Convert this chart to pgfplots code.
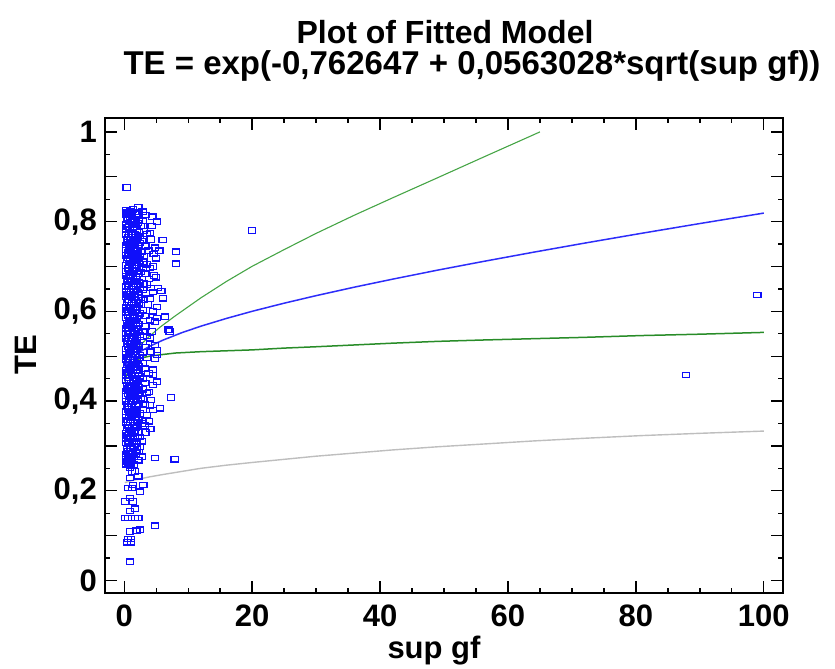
\documentclass[border=0pt]{standalone}
\usepackage{pgfplots}
\pgfplotsset{compat=1.18}
\usepackage{fontspec}
\setmainfont{Liberation Sans}
\definecolor{ptblue}{RGB}{15,15,250}
\definecolor{fitblue}{RGB}{45,45,250}
\definecolor{cgreen}{RGB}{40,140,40}
\definecolor{cgreenl}{RGB}{70,165,70}
\definecolor{pgray}{RGB}{190,190,190}
\begin{document}
\begin{tikzpicture}
\begin{axis}[
  at={(0pt,0pt)}, anchor=south west,
  scale only axis, width=678pt, height=475pt,
  xmin=-3, xmax=103, ymin=-0.028, ymax=1.031,
  xtick={0,20,40,60,80,100},
  minor x tick num=3,
  ytick={0,0.2,0.4,0.6,0.8,1},
  minor ytick={0.05,0.15,0.25,0.35,0.45,0.55,0.65,0.75,0.85,0.95},
  extra y ticks={0.1,0.3,0.5,0.7,0.9},
  extra y tick labels={},
  tick align=inside,
  major tick length=12pt, minor tick length=5pt,
  every tick/.style={black, line width=1.3pt},
  axis line style={line width=1.4pt},
  /pgf/number format/use comma,
  /pgf/number format/assume math mode=true,
  tick label style={font=\fontsize{31}{31}\selectfont\bfseries},
  xticklabel style={inner sep=4pt, yshift=-8pt},
  yticklabel style={inner sep=4pt, xshift=-4pt},
  clip=true,
]
% observations
\addplot[only marks, mark=square, mark size=2.7pt, ptblue,
  mark options={xscale=1.35, line width=1.2pt}] coordinates {
(0.35,0.826) (0.9,0.824) (1.4,0.827)
(0.3,0.815) (0.7,0.817) (1.2,0.813) (1.9,0.816)
(0.4,0.805) (0.9,0.803) (1.5,0.806) (2.3,0.804) (2.9,0.801)
(0.3,0.794) (0.8,0.792) (1.3,0.795) (1.8,0.793) (2.6,0.790)
(0.35,0.783) (0.85,0.781) (1.3,0.784) (2.0,0.782) (3.1,0.779)
(0.3,0.771) (0.75,0.773) (1.25,0.770) (1.7,0.772) (2.4,0.768)
(0.4,0.760) (0.9,0.758) (1.4,0.761) (1.9,0.759) (2.8,0.757)
(0.3,0.748) (0.8,0.750) (1.2,0.747) (1.7,0.749) (2.2,0.746)
(0.35,0.737) (0.85,0.735) (1.35,0.738) (2.0,0.736) (2.7,0.733)
(0.3,0.725) (0.7,0.727) (1.3,0.724) (1.8,0.726) (2.4,0.722)
(0.4,0.714) (0.9,0.712) (1.4,0.715) (1.9,0.713) (3.0,0.711)
(0.3,0.702) (0.8,0.704) (1.2,0.701) (1.7,0.703) (2.3,0.700)
(0.35,0.690) (0.75,0.692) (1.3,0.689) (2.0,0.691) (2.6,0.688)
(0.3,0.679) (0.85,0.677) (1.4,0.680) (1.8,0.678)
(0.4,0.667) (0.9,0.669) (1.2,0.666) (1.7,0.668) (2.3,0.665)
(0.3,0.655) (0.7,0.657) (1.3,0.654) (1.9,0.656) (2.5,0.653)
(0.35,0.644) (0.8,0.642) (1.4,0.645) (2.1,0.643)
(0.3,0.632) (0.9,0.634) (1.2,0.631) (1.7,0.633) (2.6,0.630)
(0.4,0.620) (0.75,0.622) (1.3,0.619) (1.9,0.621) (2.3,0.618)
(0.3,0.609) (0.85,0.607) (1.35,0.610) (1.8,0.608)
(0.35,0.597) (0.8,0.599) (1.2,0.596) (1.7,0.598) (2.5,0.595)
(0.3,0.586) (0.9,0.584) (1.4,0.587) (2.0,0.585)
(0.4,0.574) (0.75,0.576) (1.3,0.573) (1.8,0.575) (2.2,0.572)
(0.3,0.562) (0.8,0.564) (1.25,0.561) (1.9,0.563)
(0.35,0.551) (0.85,0.549) (1.4,0.552) (1.7,0.550) (2.4,0.547)
(0.3,0.539) (0.7,0.541) (1.3,0.538) (2.0,0.540)
(0.4,0.527) (0.9,0.529) (1.2,0.526) (1.8,0.528) (2.3,0.525)
(0.3,0.516) (0.8,0.514) (1.35,0.517) (1.9,0.515)
(0.35,0.504) (0.75,0.506) (1.3,0.503) (1.7,0.505) (2.5,0.502)
(0.3,0.492) (0.85,0.494) (1.4,0.491) (2.0,0.493)
(0.4,0.481) (0.8,0.479) (1.2,0.482) (1.8,0.480) (2.2,0.477)
(0.3,0.469) (0.9,0.471) (1.3,0.468) (1.9,0.470)
(0.35,0.457) (0.7,0.459) (1.25,0.456) (1.7,0.458) (2.4,0.455)
(0.3,0.446) (0.8,0.444) (1.4,0.447) (2.0,0.445)
(0.4,0.434) (0.85,0.436) (1.3,0.433) (1.8,0.435) (2.3,0.431)
(0.3,0.422) (0.75,0.424) (1.2,0.421) (1.9,0.423)
(0.35,0.411) (0.9,0.409) (1.4,0.412) (1.7,0.410) (2.6,0.407)
(0.3,0.399) (0.8,0.401) (1.3,0.398) (2.1,0.400)
(0.4,0.387) (0.7,0.389) (1.25,0.386) (1.8,0.388)
(0.3,0.376) (0.85,0.374) (1.35,0.377) (1.9,0.375) (2.4,0.372)
(0.35,0.364) (0.8,0.366) (1.2,0.363) (1.7,0.365)
(0.3,0.352) (0.9,0.354) (1.4,0.351) (2.0,0.353)
(0.4,0.341) (0.75,0.339) (1.3,0.342) (1.8,0.340)
(0.3,0.329) (0.8,0.331) (1.25,0.328) (2.2,0.330)
(0.35,0.317) (0.85,0.319) (1.4,0.316) (1.7,0.318)
(0.3,0.306) (0.7,0.304) (1.2,0.307) (1.9,0.305)
(0.4,0.294) (0.9,0.296) (1.35,0.293)
(0.3,0.282) (0.8,0.284) (1.3,0.281) (1.8,0.283)
(0.35,0.271) (0.75,0.269) (1.2,0.272)
(0.3,0.259) (0.85,0.261) (1.5,0.258)
(0.55,0.820) (1.05,0.819) (1.65,0.821) (2.2,0.818)
(0.6,0.809) (1.1,0.799) (1.6,0.800) (2.1,0.797)
(0.55,0.788) (1.05,0.777) (1.55,0.789) (2.3,0.776)
(0.6,0.766) (1.1,0.765) (1.6,0.755) (2.15,0.764)
(0.55,0.754) (1.05,0.743) (1.5,0.742) (2.4,0.752)
(0.6,0.731) (1.1,0.730) (1.6,0.720) (2.1,0.729)
(0.55,0.719) (1.0,0.708) (1.55,0.708) (2.2,0.717)
(0.6,0.696) (1.1,0.685) (1.6,0.696) (2.3,0.684)
(0.55,0.673) (1.05,0.673) (1.5,0.662) (2.0,0.672)
(0.6,0.661) (1.1,0.650) (1.6,0.649) (2.2,0.659)
(0.55,0.638) (1.0,0.639) (1.55,0.626) (2.1,0.637)
(0.6,0.626) (1.1,0.614) (1.6,0.614) (2.2,0.625)
(0.55,0.603) (1.05,0.603) (1.5,0.591) (2.0,0.602)
(0.6,0.591) (1.1,0.580) (1.6,0.580) (2.3,0.590)
(0.55,0.568) (1.0,0.569) (1.55,0.557) (2.1,0.567)
(0.6,0.556) (1.1,0.545) (1.6,0.545) (2.2,0.556)
(0.55,0.533) (1.05,0.534) (1.5,0.522) (2.0,0.532)
(0.6,0.521) (1.1,0.510) (1.6,0.510) (2.2,0.520)
(0.55,0.498) (1.0,0.499) (1.55,0.487) (2.3,0.497)
(0.6,0.486) (1.1,0.475) (1.6,0.475) (2.1,0.485)
(0.55,0.463) (1.05,0.463) (1.5,0.451) (2.2,0.462)
(0.6,0.451) (1.1,0.440) (1.6,0.440) (2.0,0.450)
(0.55,0.428) (1.0,0.428) (1.55,0.417) (2.2,0.427)
(0.6,0.416) (1.1,0.405) (1.6,0.405) (2.1,0.415)
(0.55,0.393) (1.05,0.393) (1.5,0.382) (2.3,0.392)
(0.6,0.381) (1.1,0.370) (1.6,0.370) (2.0,0.380)
(0.55,0.358) (1.0,0.358) (1.55,0.346) (2.2,0.357)
(0.6,0.346) (1.1,0.335) (1.6,0.334) (2.0,0.345)
(0.55,0.323) (1.05,0.323) (1.5,0.311) (2.1,0.320)
(0.6,0.311) (1.1,0.300) (1.6,0.299) (2.0,0.310)
(0.55,0.288) (1.0,0.288) (1.55,0.276) (2.0,0.292)
(0.6,0.276) (1.1,0.265) (1.0,0.256) (0.55,0.265)
(2.9,0.822) (3.4,0.815) (3.0,0.790) (3.6,0.772) (2.9,0.760) (3.3,0.745)
(3.8,0.735) (3.1,0.722) (3.5,0.705) (2.9,0.695) (3.3,0.684) (3.9,0.672)
(2.9,0.648) (3.4,0.640) (3.0,0.625) (3.7,0.615) (2.9,0.603) (3.3,0.590)
(4.0,0.580) (2.9,0.578) (3.3,0.566) (2.9,0.555) (3.6,0.545) (2.9,0.532)
(3.3,0.520) (2.9,0.508) (3.5,0.497) (2.9,0.485) (3.2,0.472) (3.8,0.462)
(2.9,0.450) (3.3,0.440) (2.9,0.426) (3.5,0.418) (2.9,0.404) (3.2,0.392)
(2.9,0.381) (3.6,0.368) (2.9,0.358) (3.2,0.345) (2.5,0.320) (2.4,0.298)
(2.3,0.286) (2.2,0.268)
(4.2,0.760) (4.0,0.775) (5.5,0.735) (4.2,0.652) (4.0,0.628) (4.3,0.555)
(4.0,0.540) (4.2,0.510) (3.9,0.420) (4.2,0.402) (3.9,0.355) (4.1,0.338)
(0.37,0.876) (2.2,0.833) (4.4,0.811) (5.1,0.800) (4.3,0.790) (6.0,0.759)
(8.1,0.733) (8.1,0.706) (4.8,0.742) (4.6,0.728) (5.0,0.718) (4.5,0.700)
(4.0,0.697) (4.7,0.680) (5.0,0.676) (3.5,0.660) (3.0,0.662) (4.5,0.643)
(5.3,0.652) (5.8,0.645) (6.1,0.629) (5.1,0.610) (4.5,0.600) (5.1,0.585)
(6.4,0.588) (4.8,0.577) (6.9,0.559) (7.1,0.555) (4.8,0.525) (5.1,0.514)
(5.1,0.503) (4.8,0.495) (4.5,0.470) (4.5,0.458) (5.1,0.443) (4.5,0.436)
(7.3,0.408) (4.0,0.390) (4.5,0.380) (5.6,0.384) (2.7,0.350) (3.3,0.330)
(2.7,0.310) (2.7,0.276) (4.8,0.273) (7.9,0.270)
(0.6,0.257) (0.9,0.252) (1.2,0.243) (1.7,0.243) (0.9,0.228) (2.2,0.232)
(1.4,0.213) (0.6,0.206) (1.2,0.206) (3.0,0.213) (2.45,0.198)
(0.1,0.176) (0.9,0.184) (1.4,0.176) (0.9,0.155) (1.7,0.160)
(0.1,0.139) (0.6,0.139) (1.7,0.139) (2.2,0.139)
(0.9,0.109) (1.9,0.111) (2.45,0.113) (4.8,0.122)
(0.6,0.092) (1.1,0.092) (0.4,0.085) (1.1,0.085) (0.9,0.042)
(20.0,0.780) (87.8,0.458) (99.0,0.636)
};
% lower 95% prediction limit
\addplot[pgray, line width=1.4pt] coordinates {
(0.1,0.218) (1,0.222) (2,0.225) (4,0.231) (6,0.236) (9,0.243) (12,0.250)
(16,0.257) (20,0.263) (25,0.270) (30,0.277) (36,0.284) (42,0.291) (49,0.298)
(56,0.304) (64,0.311) (72,0.317) (81,0.323) (90,0.328) (100,0.333)
};
% lower confidence limit
\addplot[cgreen, line width=1.5pt] coordinates {
(0.1,0.4435) (0.5,0.462) (1,0.476) (1.5,0.485) (2.5,0.4956) (4,0.500)
(5.6,0.503) (8,0.507) (12,0.510) (16,0.512) (20,0.514) (25,0.518) (30,0.521)
(36,0.525) (42,0.529) (49,0.533) (56,0.536) (64,0.539) (72,0.542) (81,0.546)
(90,0.549) (100,0.553)
};
% upper confidence limit
\addplot[cgreenl, line width=1.1pt] coordinates {
(0.1,0.5083) (0.5,0.5100) (1,0.5115) (1.5,0.5149) (2.5,0.5245) (4,0.5450)
(5.6,0.5646) (8,0.5900) (12,0.6301) (16,0.6667) (20,0.7003) (25,0.7375)
(30,0.7737) (36,0.8144) (42,0.8532) (49,0.8978) (56,0.9427) (64,0.9936)
(65,1.0)
};
% fitted model
\addplot[fitblue, line width=1.5pt] coordinates {
(0.1,0.4748) (0.5,0.4854) (1,0.4934) (1.5,0.4997) (2,0.5051) (3,0.5142)
(4,0.5220) (6,0.5354) (9,0.5523) (12,0.5669) (16,0.5842) (20,0.6000)
(25,0.6181) (30,0.6349) (36,0.6539) (42,0.6718) (49,0.6918) (56,0.7108)
(64,0.7318) (72,0.7521) (81,0.7742) (90,0.7957) (100,0.8190)
};
\end{axis}
\node[inner sep=0pt, font=\fontsize{32}{32}\selectfont\bfseries] at (340pt,561pt) {Plot of Fitted Model};
\node[inner sep=0pt, font=\fontsize{33}{33}\selectfont\bfseries] at (367pt,527pt) {TE = exp(-0,762647 + 0,0563028*sqrt(sup gf))};
\node[font=\fontsize{31}{31}\selectfont\bfseries] at (329pt,-58pt) {sup gf};
\node[font=\fontsize{31}{31}\selectfont\bfseries, rotate=90] at (-79pt,238pt) {TE};
\path (-105pt,-73pt) rectangle (730pt,593pt);
\end{tikzpicture}
\end{document}
